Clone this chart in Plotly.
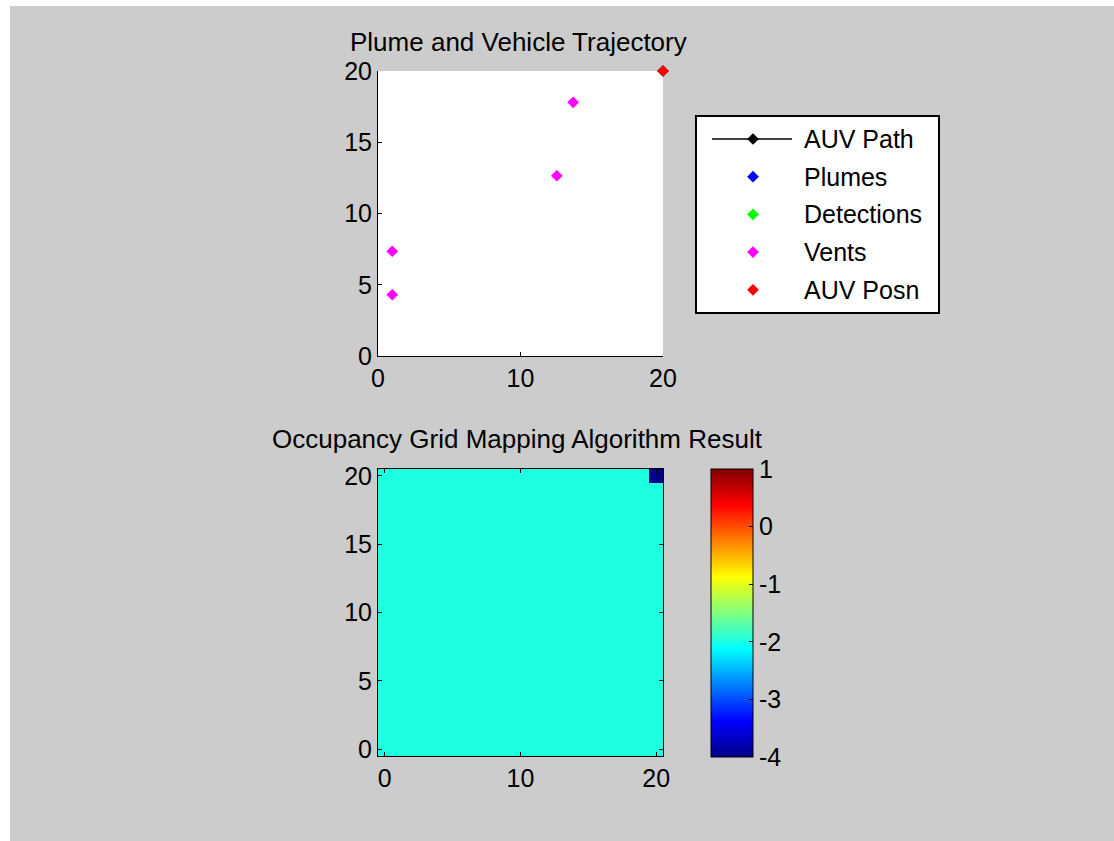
import plotly.graph_objects as go

W, H = 1114, 841

# ---- data ----
path_x = [20]
path_y = [20]
plume_x = []
plume_y = []
detect_x = []
detect_y = []
vent_x = [1.0, 1.0, 12.55, 13.7]
vent_y = [4.3, 7.35, 12.65, 17.8]
auv_x = [20]
auv_y = [20]

legend_names = ["AUV Path", "Plumes", "Detections", "Vents", "AUV Posn"]
legend_colors = ["#000000", "#0000ff", "#00ff00", "#ff00ff", "#ff0000"]

grid_n = 21
grid_base = -1.98
grid_special = [(20, 20, -4.0)]  # (row, col, value)
z = [[grid_base] * grid_n for _ in range(grid_n)]
for r, c, v in grid_special:
    z[r][c] = v

cbar_vals = [1, 0, -1, -2, -3, -4]
cbar_text = ["1", "0", "-1", "-2", "-3", "-4"]
xticks = [0, 10, 20]
yticks = [0, 5, 10, 15, 20]

jet = [
    [0.0, "rgb(0,0,135)"],
    [0.125, "rgb(0,0,255)"],
    [0.375, "rgb(0,255,255)"],
    [0.625, "rgb(255,255,0)"],
    [0.875, "rgb(255,0,0)"],
    [1.0, "rgb(128,0,0)"],
]

FONT = "Liberation Sans, Arial, sans-serif"
FS = 25

def px_x(p):
    return p / W

def px_y(p):
    return 1 - p / H

fig = go.Figure()

mk = dict(symbol="diamond", size=9)

fig.add_trace(go.Scatter(x=path_x, y=path_y, mode="lines+markers",
                         line=dict(color="black", width=1.5),
                         marker=dict(color="black", **mk),
                         xaxis="x", yaxis="y", showlegend=False, cliponaxis=False))
fig.add_trace(go.Scatter(x=plume_x, y=plume_y, mode="markers",
                         marker=dict(color="#0000ff", **mk),
                         xaxis="x", yaxis="y", showlegend=False, cliponaxis=False))
fig.add_trace(go.Scatter(x=detect_x, y=detect_y, mode="markers",
                         marker=dict(color="#00ff00", **mk),
                         xaxis="x", yaxis="y", showlegend=False, cliponaxis=False))
fig.add_trace(go.Scatter(x=vent_x, y=vent_y, mode="markers",
                         marker=dict(color="#ff00ff", **mk),
                         xaxis="x", yaxis="y", showlegend=False, cliponaxis=False))
fig.add_trace(go.Scatter(x=auv_x, y=auv_y, mode="markers",
                         marker=dict(color="#ff0000", **mk),
                         xaxis="x", yaxis="y", showlegend=False, cliponaxis=False))

# occupancy grid
fig.add_trace(go.Heatmap(
    z=z, x=list(range(grid_n)), y=list(range(grid_n)),
    colorscale=jet, zmin=-4, zmax=1,
    xaxis="x2", yaxis="y2",
    colorbar=dict(
        x=px_x(711), xanchor="left", xpad=0,
        y=px_y(469), yanchor="top", ypad=0,
        len=(757 - 469) / H, lenmode="fraction",
        thickness=42, thicknessmode="pixels",
        outlinewidth=1, outlinecolor="black",
        ticks="inside", ticklen=4, tickcolor="black",
        tickvals=cbar_vals, ticktext=cbar_text,
        tickfont=dict(family=FONT, size=FS, color="black"),
    ),
    hoverinfo="skip",
))

# manual legend (box drawn as its own axes, pixel units)
LEG_W, LEG_H = 241, 195
row0, row_step = 22, 37.7
sym_x, line_x0, line_x1, txt_x = 56, 15, 95, 105
for i, (nm, col) in enumerate(zip(legend_names, legend_colors)):
    yy = row0 + row_step * i
    if i == 0:
        fig.add_trace(go.Scatter(x=[line_x0, line_x1], y=[yy, yy], mode="lines",
                                 line=dict(color=col, width=1.5),
                                 xaxis="x3", yaxis="y3", showlegend=False, hoverinfo="skip"))
    fig.add_trace(go.Scatter(x=[sym_x], y=[yy], mode="markers",
                             marker=dict(color=col, **mk),
                             xaxis="x3", yaxis="y3", showlegend=False, hoverinfo="skip"))
    fig.add_annotation(x=txt_x, y=yy, xref="x3", yref="y3", text=nm,
                       showarrow=False, xanchor="left", yanchor="middle",
                       font=dict(family=FONT, size=FS, color="black"))

axis_common = dict(showgrid=False, zeroline=False, showline=True, linecolor="black",
                   linewidth=1, ticks="inside", ticklen=4, tickcolor="black",
                   automargin=False,
                   tickfont=dict(family=FONT, size=FS, color="black"))

fig.update_layout(
    width=W, height=H, autosize=False,
    margin=dict(l=0, r=0, t=0, b=0, pad=0, autoexpand=False),
    paper_bgcolor="#cccccc", plot_bgcolor="white",
    showlegend=False,
    xaxis=dict(domain=[px_x(378), px_x(663)], range=[0, 20], tickvals=xticks,
               anchor="y", mirror=False, **axis_common),
    yaxis=dict(domain=[px_y(356), px_y(71)], range=[0, 20], tickvals=yticks,
               anchor="x", mirror=False, **axis_common),
    xaxis2=dict(domain=[px_x(378), px_x(663)], range=[-0.5, 20.5], tickvals=xticks,
                anchor="y2", mirror="ticks", **axis_common),
    yaxis2=dict(domain=[px_y(756), px_y(469)], range=[-0.5, 20.5], tickvals=yticks,
                anchor="x2", mirror="ticks", **axis_common),
    xaxis3=dict(domain=[px_x(697), px_x(938)], range=[0, LEG_W], anchor="y3",
                showgrid=False, zeroline=False, showticklabels=False, ticks="",
                showline=True, mirror=True, linecolor="black", linewidth=1.5, fixedrange=True),
    yaxis3=dict(domain=[px_y(312), px_y(117)], range=[LEG_H, 0], anchor="x3",
                showgrid=False, zeroline=False, showticklabels=False, ticks="",
                showline=True, mirror=True, linecolor="black", linewidth=1.5, fixedrange=True),
    shapes=[
        dict(type="rect", xref="paper", yref="paper", x0=0, x1=px_x(10), y0=0, y1=1,
             fillcolor="white", line=dict(width=0), layer="below"),
        dict(type="rect", xref="paper", yref="paper", x0=0, x1=1, y0=px_y(6), y1=1,
             fillcolor="white", line=dict(width=0), layer="below"),
    ],
    annotations=list(fig.layout.annotations) + [
        dict(text="Plume and Vehicle Trajectory", x=px_x(518), y=px_y(42),
             xref="paper", yref="paper", showarrow=False, xanchor="center", yanchor="middle",
             font=dict(family=FONT, size=26, color="black")),
        dict(text="Occupancy Grid Mapping Algorithm Result", x=px_x(517), y=px_y(439),
             xref="paper", yref="paper", showarrow=False, xanchor="center", yanchor="middle",
             font=dict(family=FONT, size=26, color="black")),
    ],
)

fig.write_html(
    "out.html",
    post_script="document.body.style.margin='0';document.body.style.padding='0';"
                "document.body.style.overflow='hidden';",
)
